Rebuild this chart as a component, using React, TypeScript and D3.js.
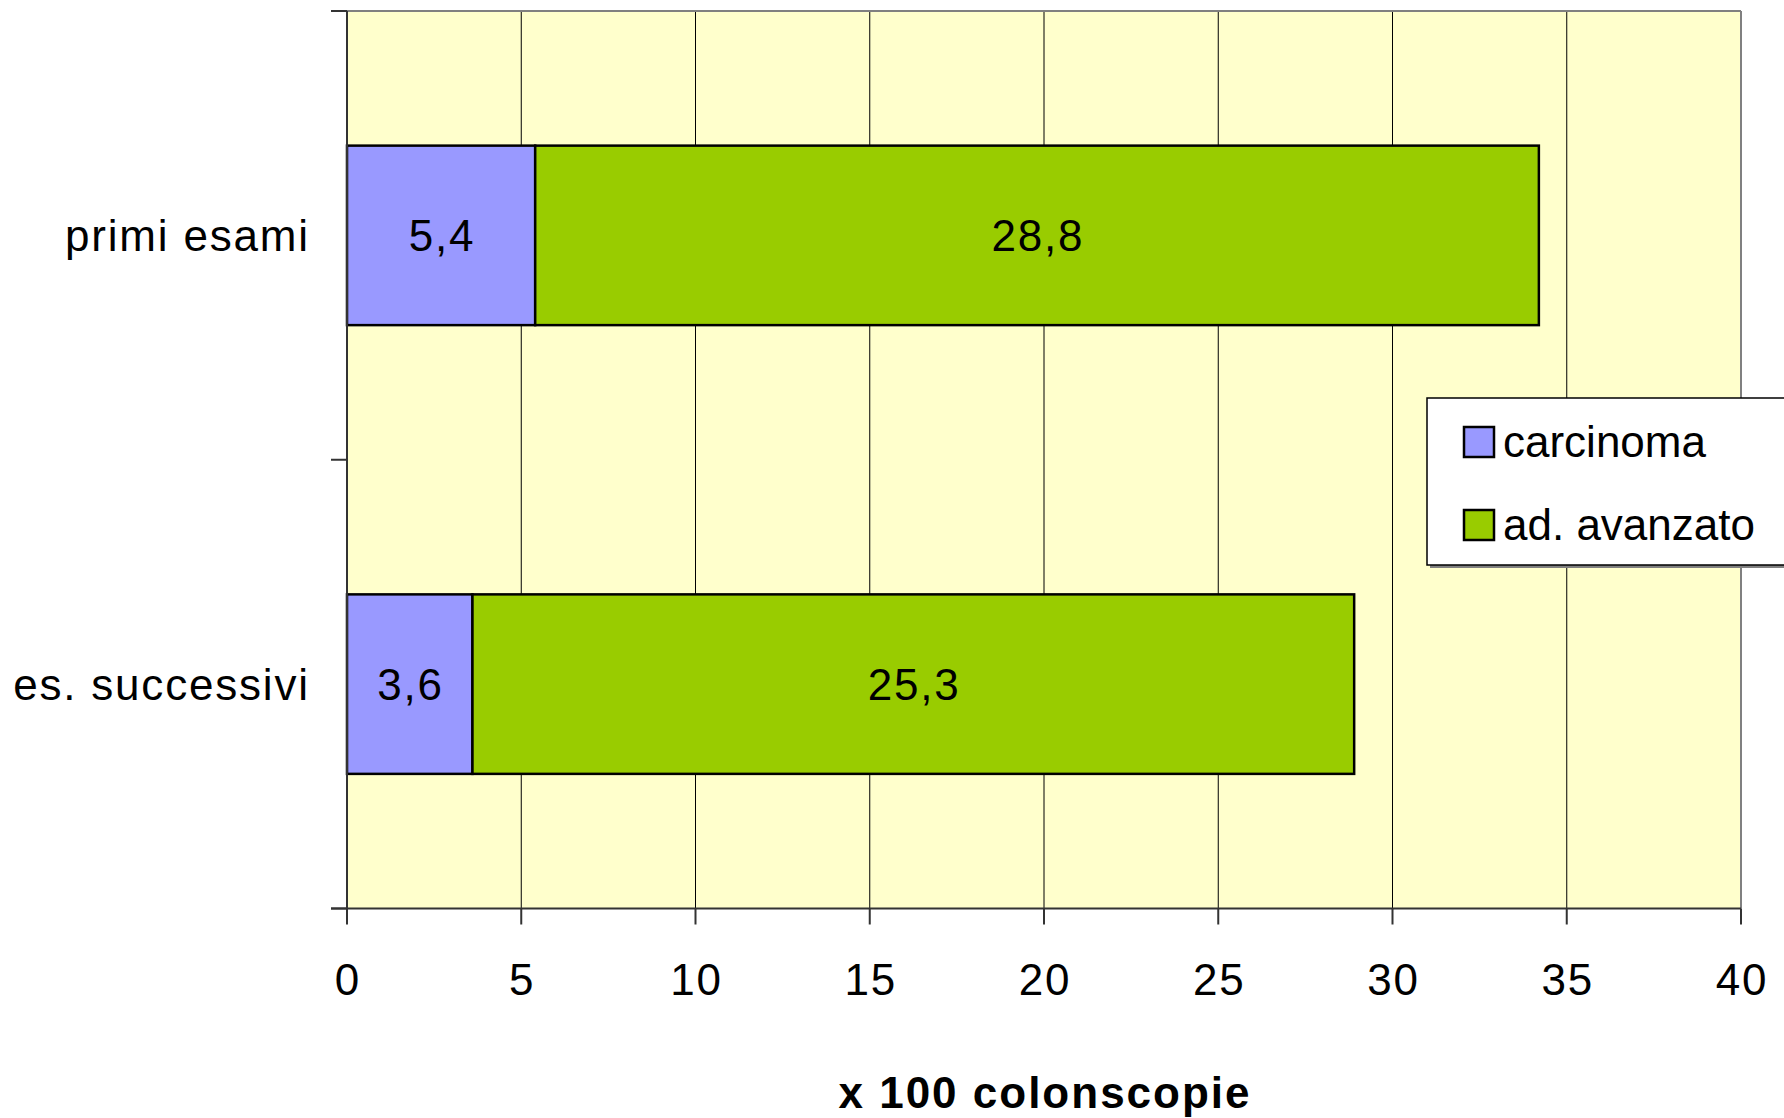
import React from "react";
import * as d3 from "d3";

const categories = ["primi esami", "es. successivi"];
const seriesNames = ["carcinoma", "ad. avanzato"];
const carcinoma = [5.4, 3.6];
const adAvanzato = [28.8, 25.3];
const xTicks = [0, 5, 10, 15, 20, 25, 30, 35, 40];
const colors = ["#9999FF", "#99CC00"];
const xTitle = "x 100 colonscopie";

const W = 1784;
const H = 1118;
const plot = { left: 347, right: 1741, top: 11, bottom: 908.5 };
const FONT = "Arial, 'Liberation Sans', Helvetica, sans-serif";
const LS = 1.8;

export default function App() {
  const x = d3.scaleLinear().domain([0, 40]).range([plot.left, plot.right]);
  const y = d3
    .scaleBand<string>()
    .domain(categories)
    .range([plot.top, plot.bottom])
    .paddingInner(0.6)
    .paddingOuter(0.3);

  const rows = categories.map((c, i) => ({ cat: c, vals: [carcinoma[i], adAvanzato[i]] }));
  const fmt = (v: number) => v.toFixed(1).replace(".", ",");

  return (
    <svg
      width={W}
      height={H}
      style={{ position: "absolute", left: 0, top: 0, background: "#fff" }}
      fontFamily={FONT}
    >
      <rect x={plot.left} y={plot.top} width={plot.right - plot.left} height={plot.bottom - plot.top} fill="#FFFFCC" />
      {xTicks.slice(1, -1).map((t) => (
        <line key={"g" + t} x1={x(t)} x2={x(t)} y1={plot.top} y2={plot.bottom} stroke="#000" strokeWidth={1} />
      ))}
      <line x1={plot.left} x2={plot.right} y1={plot.top} y2={plot.top} stroke="#808080" strokeWidth={2} />
      <line x1={plot.right} x2={plot.right} y1={plot.top} y2={plot.bottom} stroke="#808080" strokeWidth={2} />

      {rows.map((r) => {
        let acc = 0;
        const y0 = y(r.cat)!;
        const bh = y.bandwidth();
        return (
          <g key={r.cat}>
            {r.vals.map((v, j) => {
              const x0 = x(acc);
              acc += v;
              const x1 = x(acc);
              return (
                <g key={j}>
                  <rect x={x0} y={y0} width={x1 - x0} height={bh} fill={colors[j]} stroke="#000" strokeWidth={2.5} />
                  <text
                    x={(x0 + x1) / 2 + LS / 2}
                    y={y0 + bh / 2 + 16}
                    textAnchor="middle"
                    fontSize={44}
                    letterSpacing={LS}
                    fill="#000"
                  >
                    {fmt(v)}
                  </text>
                </g>
              );
            })}
            <text
              x={308 + LS}
              y={y0 + bh / 2 + 16}
              textAnchor="end"
              fontSize={44}
              letterSpacing={LS}
              fill="#000"
            >
              {r.cat}
            </text>
          </g>
        );
      })}

      <line x1={plot.left} x2={plot.left} y1={plot.top} y2={plot.bottom} stroke="#333" strokeWidth={2} />
      <line x1={plot.left - 16} x2={plot.right} y1={plot.bottom} y2={plot.bottom} stroke="#333" strokeWidth={2} />
      {[plot.top, (plot.top + plot.bottom) / 2, plot.bottom].map((ty, i) => (
        <line key={"yt" + i} x1={plot.left - 16} x2={plot.left} y1={ty} y2={ty} stroke="#333" strokeWidth={2} />
      ))}
      {xTicks.map((t) => (
        <g key={"xt" + t}>
          <line x1={x(t)} x2={x(t)} y1={plot.bottom} y2={plot.bottom + 16} stroke="#333" strokeWidth={2} />
          <text x={x(t) + LS / 2} y={995} textAnchor="middle" fontSize={44} letterSpacing={LS} fill="#000">
            {t}
          </text>
        </g>
      ))}
      <text
        x={1045}
        y={1108}
        textAnchor="middle"
        fontSize={44}
        fontWeight="bold"
        letterSpacing={2}
        fill="#000"
      >
        {xTitle}
      </text>

      <rect x={1430} y={401} width={400} height={167} fill="#808080" />
      <rect x={1427} y={398} width={400} height={167} fill="#fff" stroke="#000" strokeWidth={1.5} />
      {seriesNames.map((s, i) => (
        <g key={s}>
          <rect x={1464} y={427 + i * 83} width={30} height={30} fill={colors[i]} stroke="#000" strokeWidth={2.5} />
          <text x={1503} y={457 + i * 83} fontSize={44} fill="#000">
            {s}
          </text>
        </g>
      ))}
    </svg>
  );
}
